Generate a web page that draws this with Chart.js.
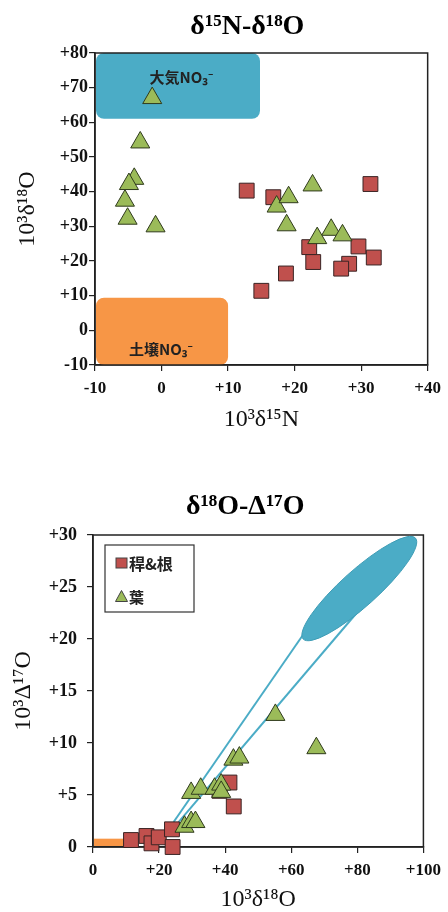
<!DOCTYPE html>
<html><head><meta charset="utf-8">
<script src="https://cdn.jsdelivr.net/npm/chart.js@4.4.1/dist/chart.umd.min.js"></script>
<style>
html,body{margin:0;padding:0;background:#fff;}
#w1{position:absolute;left:0;top:0;width:448px;height:440px;}
#w2{position:absolute;left:0;top:460px;width:448px;height:452px;}
</style></head><body>
<div id="w1"><canvas id="c1"></canvas></div>
<div id="w2"><canvas id="c2"></canvas></div>
<script>
// ---------- data ----------
const seriesNames = ['稈&根', '葉'];
const title1 = 'δ¹⁵N-δ¹⁸O';
const title2 = 'δ¹⁸O-Δ¹⁷O';
const xTitle1 = '10³δ¹⁵N', yTitle1 = '10³δ¹⁸O';
const xTitle2 = '10³δ¹⁸O', yTitle2 = '10³Δ¹⁷O';

// chart 1 : δ15N vs δ18O
const stemN15 = [12.8, 16.8, 31.4, 22.2, 29.6, 31.9, 22.8, 28.2, 27.0, 18.7, 15.0];
const stemO18 = [40.3, 38.4, 42.2, 24.0, 24.2, 21.0, 19.7, 19.2, 17.8, 16.4, 11.4];
const leafN15 = [-1.4, -3.2, -4.1, -4.9, -5.5, -5.1, -0.9, 17.3, 19.1, 18.8, 22.7, 25.5, 27.2, 23.4];
const leafO18 = [67.0, 54.2, 43.7, 42.2, 37.4, 32.2, 30.0, 35.7, 38.4, 30.3, 41.8, 29.0, 27.4, 26.6];

// chart 1 source regions
const atmosBoxX = [-10, 14.8], atmosBoxY = [61, 80];
const soilBoxX = [-10, 10], soilBoxY = [-10, 9.4];
const atmosLabel = '大気NO₃⁻', soilLabel = '土壌NO₃⁻';
const atmosLabelPos = [3.0, 72.9], soilLabelPos = [-0.1, -5.5];

// chart 2 : δ18O vs Δ17O
const stemO18b = [11.5, 16.2, 17.7, 19.9, 23.9, 24.1, 41.3, 38.3, 42.6];
const stemD17 = [0.67, 1.06, 0.35, 0.93, 1.7, 0.0, 6.2, 5.4, 3.9];
const leafO18b = [55.2, 67.6, 42.5, 44.3, 29.7, 32.6, 36.8, 38.8, 38.8, 27.7, 29.7, 31.0];
const leafD17 = [12.7, 9.5, 8.4, 8.6, 5.2, 5.6, 5.6, 6.0, 5.3, 1.95, 2.4, 2.4];

// chart 2 mixing lines / source regions
const mixLine1X = [24.4, 64.0], mixLine1Y = [2.4, 20.6];
const mixLine2X = [25.9, 83.0], mixLine2Y = [2.4, 23.7];
const atmosEllipseX = [63.6, 97.6], atmosEllipseY = [20.0, 29.7];
const soilBar2X = [0, 9.5], soilBar2Y = [0, 0.8];

// tick labels
const xTicks1 = ['-10', '0', '+10', '+20', '+30', '+40'];
const yTicks1 = ['-10', '0', '+10', '+20', '+30', '+40', '+50', '+60', '+70', '+80'];
const xTicks2 = ['0', '+20', '+40', '+60', '+80', '+100'];
const yTicks2 = ['0', '+5', '+10', '+15', '+20', '+25', '+30'];

// ---------- styles ----------
const SERIF = '"Liberation Serif", "Times New Roman", "DejaVu Serif", serif';
const CJK = '"Noto Sans CJK JP", "Noto Sans", sans-serif';
const RED = '#C0504D', GREEN = '#9BBB59', BLUE = '#4BACC6', ORANGE = '#F79646';

const pts = (xs, ys) => xs.map((x, i) => ({x, y: ys[i]}));

// centre the chart title over a custom horizontal span (left edge offset)
const titleSpan = (leftEdge) => ({
  id: 'titleSpan',
  afterLayout(chart) {
    const t = chart.titleBlock;
    if (t) { t.left = leftEdge; t.right = chart.chartArea.right; t.width = t.right - t.left; }
  }
});

const frame = {
  id: 'frame',
  beforeDatasetsDraw(chart) {
    const {ctx, chartArea: a} = chart;
    ctx.save();
    ctx.strokeStyle = '#222';
    ctx.lineWidth = 1.5;
    ctx.strokeRect(a.left, a.top, a.right - a.left, a.bottom - a.top);
    ctx.restore();
  }
};

const regions1 = {
  id: 'regions1',
  beforeDatasetsDraw(chart) {
    const {ctx, scales: {x, y}} = chart;
    ctx.save();
    const box = (bx, by, col) => {
      const l = x.getPixelForValue(bx[0]), r = x.getPixelForValue(bx[1]);
      const t = y.getPixelForValue(by[1]), b = y.getPixelForValue(by[0]);
      ctx.fillStyle = col;
      ctx.beginPath();
      ctx.roundRect(l + 1, t, r - l - 1, b - t, 8);
      ctx.fill();
    };
    box(atmosBoxX, atmosBoxY, BLUE);
    box(soilBoxX, soilBoxY, ORANGE);
    ctx.fillStyle = '#222';
    ctx.font = 'bold 15px ' + CJK;
    ctx.textAlign = 'center';
    ctx.textBaseline = 'middle';
    ctx.fillText(atmosLabel, x.getPixelForValue(atmosLabelPos[0]), y.getPixelForValue(atmosLabelPos[1]));
    ctx.fillText(soilLabel, x.getPixelForValue(soilLabelPos[0]), y.getPixelForValue(soilLabelPos[1]));
    ctx.restore();
    frame.beforeDatasetsDraw(chart);
  }
};

const regions2 = {
  id: 'regions2',
  beforeDatasetsDraw(chart) {
    const {ctx, scales: {x, y}} = chart;
    ctx.save();
    const l = x.getPixelForValue(soilBar2X[0]), r = x.getPixelForValue(soilBar2X[1]);
    const t = y.getPixelForValue(soilBar2Y[1]), b = y.getPixelForValue(soilBar2Y[0]);
    ctx.fillStyle = ORANGE;
    ctx.fillRect(l + 1, t, r - l - 1, b - t - 1);
    ctx.restore();
    frame.beforeDatasetsDraw(chart);
  },
  afterDatasetsDraw(chart) {
    const {ctx, scales: {x, y}} = chart;
    const x1 = x.getPixelForValue(atmosEllipseX[0]), y1 = y.getPixelForValue(atmosEllipseY[0]);
    const x2 = x.getPixelForValue(atmosEllipseX[1]), y2 = y.getPixelForValue(atmosEllipseY[1]);
    const cx = (x1 + x2) / 2, cy = (y1 + y2) / 2;
    const a = Math.hypot(x2 - x1, y2 - y1) / 2;
    const ang = Math.atan2(y2 - y1, x2 - x1);
    ctx.save();
    ctx.fillStyle = BLUE;
    ctx.strokeStyle = '#3e9cb5';
    ctx.lineWidth = 1;
    ctx.beginPath();
    ctx.ellipse(cx, cy, a, 18, ang, 0, Math.PI * 2);
    ctx.fill();
    ctx.stroke();
    ctx.restore();
  }
};

const legend2 = {
  id: 'legend2',
  afterDraw(chart) {
    const {ctx, chartArea: a} = chart;
    const bx = a.left + 12, by = a.top + 10, bw = 89, bh = 67;
    ctx.save();
    ctx.fillStyle = '#fff';
    ctx.fillRect(bx, by, bw, bh);
    ctx.strokeStyle = '#333';
    ctx.lineWidth = 1.2;
    ctx.strokeRect(bx, by, bw, bh);
    ctx.fillStyle = RED; ctx.strokeStyle = '#444'; ctx.lineWidth = 1;
    ctx.fillRect(bx + 11, by + 13, 11, 10);
    ctx.strokeRect(bx + 11, by + 13, 11, 10);
    const tx = bx + 16.5, ty = by + 52;
    ctx.fillStyle = GREEN;
    ctx.beginPath();
    ctx.moveTo(tx, ty - 6.5); ctx.lineTo(tx + 6, ty + 4.5); ctx.lineTo(tx - 6, ty + 4.5); ctx.closePath();
    ctx.fill(); ctx.stroke();
    ctx.fillStyle = '#222';
    ctx.textAlign = 'left'; ctx.textBaseline = 'middle';
    ctx.font = 'bold 16px ' + CJK;
    ctx.fillText(seriesNames[0], bx + 24, by + 19);
    ctx.font = 'bold 15px ' + CJK;
    ctx.fillText(seriesNames[1], bx + 24, by + 52);
    ctx.restore();
  }
};

function axis(min, max, step, labels, size, tl, pad, title, titlePad, horizontal) {
  return {
    type: 'linear', min, max,
    ticks: {
      stepSize: step, autoSkip: false, maxRotation: 0, minRotation: 0, padding: pad,
      color: '#111', font: {family: SERIF, size: horizontal ? 17 : 18, weight: 'bold'},
      callback: (v, i) => labels[i]
    },
    grid: {drawOnChartArea: false, drawTicks: true, tickLength: tl, color: '#222', lineWidth: 1.2},
    border: {display: true, color: '#222', width: 1.5},
    title: {display: true, text: title, color: '#111',
      font: {family: SERIF, size: 24, lineHeight: 1},
      padding: titlePad},
    afterFit: horizontal ? (s) => { s.height = size; } : (s) => { s.width = size; }
  };
}

const markerStyles = {
  stem: {pointStyle: 'rect', pointRadius: 10.5, backgroundColor: RED, borderColor: '#3a2424', borderWidth: 1},
  leaf: {pointStyle: 'triangle', pointRadius: 11, backgroundColor: GREEN, borderColor: '#2f3a1c', borderWidth: 1}
};

const common = {
  responsive: true, maintainAspectRatio: false, animation: false, events: [],
};

new Chart(document.getElementById('c1'), {
  type: 'scatter',
  data: {
    datasets: [
      Object.assign({label: seriesNames[1], data: pts(leafN15, leafO18), order: 0, clip: false}, markerStyles.leaf),
      Object.assign({label: seriesNames[0], data: pts(stemN15, stemO18), order: 1, clip: false}, markerStyles.stem)
    ]
  },
  options: Object.assign({}, common, {
    layout: {padding: {top: 0, left: 0, right: 15, bottom: 0}},
    plugins: {
      legend: {display: false}, tooltip: {enabled: false},
      title: {display: true, text: title1, color: '#000',
        font: {family: SERIF, size: 28, weight: 'bold', lineHeight: 1.2},
        padding: {top: 10.2, bottom: 9.2}}
    },
    scales: {
      x: axis(-10, 40, 10, xTicks1, 75, 6, 7, xTitle1, {top: 0, bottom: 8}, true),
      y: axis(-10, 80, 10, yTicks1, 95, 6, 1, yTitle1, {top: 16, bottom: 0}, false)
    }
  }),
  plugins: [regions1, titleSpan(67)]
});

new Chart(document.getElementById('c2'), {
  type: 'scatter',
  data: {
    datasets: [
      Object.assign({label: seriesNames[1], data: pts(leafO18b, leafD17), order: 0, clip: false}, markerStyles.leaf),
      Object.assign({label: seriesNames[0], data: pts(stemO18b, stemD17), order: 1, clip: false}, markerStyles.stem),
      {label: 'mix1', data: pts(mixLine1X, mixLine1Y), showLine: true, pointRadius: 0, borderColor: BLUE, borderWidth: 2, fill: false, order: 3},
      {label: 'mix2', data: pts(mixLine2X, mixLine2Y), showLine: true, pointRadius: 0, borderColor: BLUE, borderWidth: 2, fill: false, order: 3}
    ]
  },
  options: Object.assign({}, common, {
    layout: {padding: {top: 0, left: 0, right: 19, bottom: 0}},
    plugins: {
      legend: {display: false}, tooltip: {enabled: false},
      title: {display: true, text: title2, color: '#000',
        font: {family: SERIF, size: 28, weight: 'bold', lineHeight: 1.2},
        padding: {top: 30.2, bottom: 11.2}}
    },
    scales: {
      x: axis(0, 100, 20, xTicks2, 65, 6, 7, xTitle2, {top: 0, bottom: 0}, true),
      y: axis(0, 30, 5, yTicks2, 93, 6, 10, yTitle2, {top: 12, bottom: 0}, false)
    }
  }),
  plugins: [regions2, legend2, titleSpan(67)]
});
</script>
</body></html>
